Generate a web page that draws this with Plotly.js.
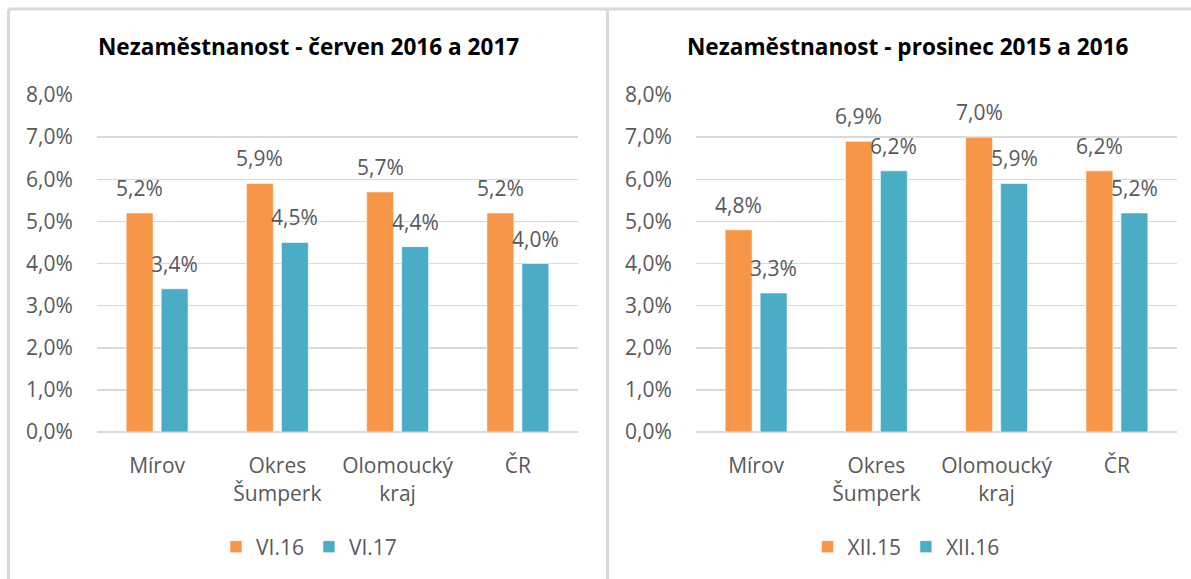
<!DOCTYPE html>
<html>
<head>
<meta charset="utf-8">
<script src="https://cdn.plot.ly/plotly-3.0.1.min.js"></script>
<style>
  html, body { margin: 0; padding: 0; background: #ffffff; }
  #chart { width: 1191px; height: 579px; }
</style>
</head>
<body>
<div id="chart"></div>
<script>
// ---- data ----
const categories = ['Mírov', 'Okres<br>Šumperk', 'Olomoucký<br>kraj', 'ČR'];
const leftTitle = 'Nezaměstnanost - červen 2016 a 2017';
const rightTitle = 'Nezaměstnanost - prosinec 2015 a 2016';
const leftSeriesNames = ['VI.16', 'VI.17'];
const rightSeriesNames = ['XII.15', 'XII.16'];
const vi16 = [5.2, 5.9, 5.7, 5.2];
const vi17 = [3.4, 4.5, 4.4, 4.0];
const xii15 = [4.8, 6.9, 7.0, 6.2];
const xii16 = [3.3, 6.2, 5.9, 5.2];
const yTickValues = [0, 1, 2, 3, 4, 5, 6, 7, 8];

// ---- style ----
const ORANGE = '#F79646';
const TEAL = '#4BACC6';
const FONT = '"Open Sans", sans-serif';
const TXT = '#595959';
const GRID = '#d9d9d9';
const W = 1191, H = 579;

function fmt(v) { return v.toFixed(1).replace('.', ',') + '%'; }

function barTrace(name, values, color, xa, ya, legend) {
  return {
    type: 'bar', name: name, x: categories, y: values,
    xaxis: xa, yaxis: ya, legend: legend,
    marker: { color: color, line: { color: 'rgba(255,255,255,0.6)', width: 1 } },
    hoverinfo: 'skip'
  };
}

const traces = [
  barTrace(leftSeriesNames[0], vi16, ORANGE, 'x', 'y', 'legend'),
  barTrace(leftSeriesNames[1], vi17, TEAL, 'x', 'y', 'legend'),
  barTrace(rightSeriesNames[0], xii15, ORANGE, 'x2', 'y2', 'legend2'),
  barTrace(rightSeriesNames[1], xii16, TEAL, 'x2', 'y2', 'legend2')
];

const annotations = [];
function addLabels(values, xref, yref, shift) {
  values.forEach((v, i) => {
    annotations.push({
      x: categories[i], y: v, xref: xref, yref: yref,
      text: fmt(v), showarrow: false,
      xshift: shift, yshift: 25, yanchor: 'middle', xanchor: 'center',
      font: { family: FONT, size: 21, color: TXT }
    });
  });
}
addLabels(vi16, 'x', 'y', -17.5);
addLabels(vi17, 'x', 'y', 17.5);
addLabels(xii15, 'x2', 'y2', -17.5);
addLabels(xii16, 'x2', 'y2', 17.5);

annotations.push({
  text: leftTitle, xref: 'paper', yref: 'paper', x: 308 / W, y: 1 - 47 / H,
  xanchor: 'center', yanchor: 'middle', showarrow: false,
  font: { family: FONT, size: 22.6, color: '#000000', weight: 700 }
});
annotations.push({
  text: rightTitle, xref: 'paper', yref: 'paper', x: 908 / W, y: 1 - 47 / H,
  xanchor: 'center', yanchor: 'middle', showarrow: false,
  font: { family: FONT, size: 22.6, color: '#000000', weight: 700 }
});

const yTop = 1 - 95 / H, yBot = 1 - 432 / H;

function xAxis(domain, anchor) {
  return {
    domain: domain, anchor: anchor, type: 'category',
    showgrid: false, zeroline: false, showline: false,
    ticks: 'outside', ticklen: 15, tickcolor: 'rgba(0,0,0,0)',
    tickfont: { family: FONT, size: 21, color: TXT },
    fixedrange: true
  };
}
function yAxis(anchor) {
  return {
    domain: [yBot, yTop], anchor: anchor, range: [0, 8],
    tickvals: yTickValues, ticktext: yTickValues.map(fmt),
    showgrid: true, gridcolor: GRID, gridwidth: 1.5,
    zeroline: true, zerolinecolor: GRID, zerolinewidth: 2,
    showline: false,
    ticks: 'outside', ticklen: 19, tickcolor: 'rgba(0,0,0,0)',
    tickfont: { family: FONT, size: 21, color: TXT },
    fixedrange: true
  };
}

const borderShapes = [
  { type: 'line', xref: 'paper', yref: 'paper', x0: 8.5 / W, x1: 1.05, y0: 1 - 9 / H, y1: 1 - 9 / H, line: { color: GRID, width: 3 } },
  { type: 'line', xref: 'paper', yref: 'paper', x0: 8.5 / W, x1: 8.5 / W, y0: -0.05, y1: 1 - 9 / H, line: { color: GRID, width: 3 } },
  { type: 'line', xref: 'paper', yref: 'paper', x0: 607.5 / W, x1: 607.5 / W, y0: -0.05, y1: 1 - 9 / H, line: { color: GRID, width: 3 } }
];

const legendBase = {
  orientation: 'h', yanchor: 'middle', xanchor: 'center', y: 1 - 547 / H,
  font: { family: FONT, size: 21, color: TXT }, bgcolor: 'rgba(0,0,0,0)',
  traceorder: 'normal'
};

const layout = {
  width: W, height: H,
  margin: { l: 0, r: 0, t: 0, b: 0 },
  paper_bgcolor: '#ffffff', plot_bgcolor: '#ffffff',
  barmode: 'group', bargap: 0.418, bargroupgap: 0.23,
  xaxis: xAxis([97 / W, 578 / W], 'y'),
  yaxis: yAxis('x'),
  xaxis2: xAxis([696 / W, 1177 / W], 'y2'),
  yaxis2: yAxis('x2'),
  legend: Object.assign({}, legendBase, { x: 309 / W }),
  legend2: Object.assign({}, legendBase, { x: 906 / W }),
  annotations: annotations,
  shapes: borderShapes,
  showlegend: true
};

Plotly.newPlot('chart', traces, layout, { staticPlot: true, displayModeBar: false });
</script>
</body>
</html>
